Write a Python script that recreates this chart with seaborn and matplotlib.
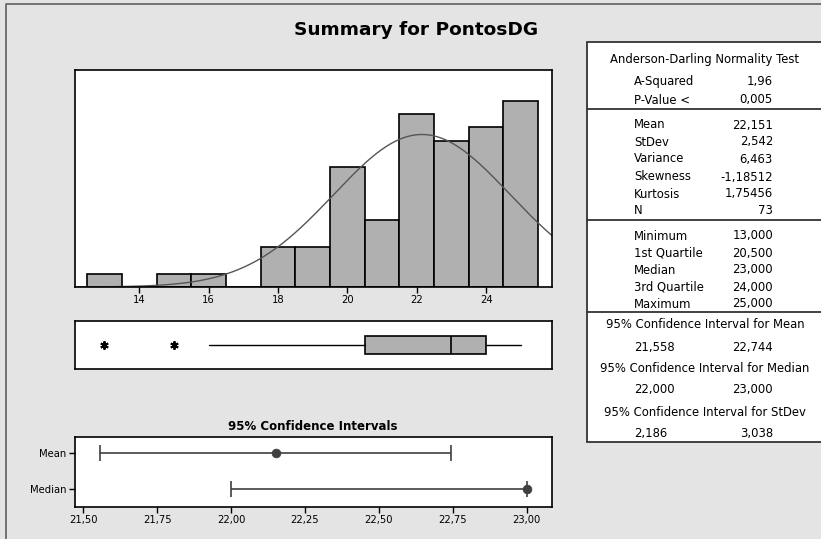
import numpy as np
import pandas as pd
import matplotlib
matplotlib.use("Agg")
import matplotlib.pyplot as plt
import seaborn as sns
from matplotlib.ticker import FuncFormatter
from matplotlib.patches import Rectangle

# ---------------- data ----------------
bin_centers = [13, 14, 15, 16, 17, 18, 19, 20, 21, 22, 23, 24, 25]
bin_counts = [1, 0, 1, 1, 0, 3, 3, 9, 5, 13, 11, 12, 14]
mean_val = 22.151
sd_val = 2.542
n_val = 73
hist_ticks = [14, 16, 18, 20, 22, 24]

ci_labels = ["Mean", "Median"]
ci_point = [22.151, 23.000]
ci_low = [21.558, 22.000]
ci_high = [22.744, 23.000]
ci_ticks = [21.50, 21.75, 22.00, 22.25, 22.50, 22.75, 23.00]

ad_labels = ["A-Squared", "P-Value <"]
ad_values = ["1,96", "0,005"]
desc_labels = ["Mean", "StDev", "Variance", "Skewness", "Kurtosis", "N"]
desc_values = ["22,151", "2,542", "6,463", "-1,18512", "1,75456", "73"]
quart_labels = ["Minimum", "1st Quartile", "Median", "3rd Quartile", "Maximum"]
quart_values = ["13,000", "20,500", "23,000", "24,000", "25,000"]
ci_headers = ["95% Confidence Interval for Mean",
              "95% Confidence Interval for Median",
              "95% Confidence Interval for StDev"]
ci_lows_txt = ["21,558", "22,000", "2,186"]
ci_highs_txt = ["22,744", "23,000", "3,038"]

values = np.repeat(bin_centers, bin_counts).astype(float)

# ---------------- figure ----------------
sns.set_theme(style="white")
plt.rcParams["font.family"] = ["DejaVu Sans"]
plt.rcParams["text.color"] = "black"
plt.rcParams["xtick.color"] = "black"
plt.rcParams["ytick.color"] = "black"
W, H = 821, 539
BG = "#e4e4e4"
fig = plt.figure(figsize=(W / 100, H / 100), dpi=100, facecolor=BG)

def ax_rect(left, top, right, bottom):
    return [left / W, (H - bottom) / H, (right - left) / W, (bottom - top) / H]

comma = FuncFormatter(lambda v, p: f"{v:.2f}".replace(".", ","))
intfmt = FuncFormatter(lambda v, p: f"{v:.0f}")

# overlay for frame + table
ov = fig.add_axes([0, 0, 1, 1], zorder=-1)
ov.set_xlim(0, W)
ov.set_ylim(H, 0)
ov.axis("off")
ov.plot([6, 6, W + 5], [H + 5, 4, 4], color="#6a6a6a", lw=1.3)

# ---------------- histogram ----------------
ax_h = fig.add_axes(ax_rect(75, 70, 552, 287))
edges = np.arange(min(bin_centers) - 0.5, max(bin_centers) + 1.0, 1.0)
sns.histplot(x=values, bins=edges, stat="count", color="#b0b0b0",
             edgecolor="black", linewidth=1.2, alpha=1, ax=ax_h)
xs = np.linspace(12.0, 26.2, 400)
ys = n_val * 1.0 * np.exp(-0.5 * ((xs - mean_val) / sd_val) ** 2) / (sd_val * np.sqrt(2 * np.pi))
sns.lineplot(x=xs, y=ys, color="#555555", lw=1.0, ax=ax_h)
ax_h.set_xlim(12.15, 25.9)
ax_h.set_ylim(0, 16.3)
ax_h.set_xticks(hist_ticks)
ax_h.xaxis.set_major_formatter(intfmt)
ax_h.set_yticks([])
ax_h.set_xlabel("")
ax_h.set_ylabel("")

# ---------------- boxplot ----------------
ax_b = fig.add_axes(ax_rect(75, 321, 552, 369))
q1 = np.percentile(values, 25, method="weibull")
q3 = np.percentile(values, 75, method="weibull")
med = np.percentile(values, 50, method="weibull")
iqr = q3 - q1
lo_f, hi_f = q1 - 1.5 * iqr, q3 + 1.5 * iqr
whislo = values[values >= lo_f].min()
whishi = values[values <= hi_f].max()
fliers = np.unique(values[(values < lo_f) | (values > hi_f)])
stats = [dict(med=med, q1=q1, q3=q3, whislo=whislo, whishi=whishi, fliers=fliers)]
ax_b.bxp(stats, positions=[0], widths=0.72, orientation="horizontal",
         patch_artist=True, showcaps=False,
         boxprops=dict(facecolor="#b0b0b0", edgecolor="black", linewidth=1.2),
         medianprops=dict(color="black", linewidth=1.2),
         whiskerprops=dict(color="black", linewidth=1.0),
         flierprops=dict(marker=(6, 2, 0), markersize=6, markeredgecolor="black",
                         markeredgewidth=1.4, linestyle="none"))
ax_b.set_xlim(12.15, 25.9)
ax_b.set_ylim(-1, 1)
ax_b.set_xticks([])
ax_b.set_yticks([])

# ---------------- confidence intervals ----------------
ax_c = fig.add_axes(ax_rect(75, 437, 552, 507))
ypos = np.arange(len(ci_labels))
lo_err = np.array(ci_point) - np.array(ci_low)
hi_err = np.array(ci_high) - np.array(ci_point)
ax_c.errorbar(ci_point, ypos, xerr=[lo_err, hi_err], fmt="none",
              ecolor="#404040", elinewidth=1.2, capsize=5.5, capthick=1.2)
sns.scatterplot(x=ci_point, y=ypos, color="#404040", s=40, edgecolor="#404040",
                ax=ax_c, zorder=3)
ax_c.set_xlim(21.472, 23.086)
ax_c.set_ylim(1.5, -0.44)
ax_c.set_yticks(ypos)
ax_c.set_yticklabels(ci_labels)
ax_c.set_xticks(ci_ticks)
ax_c.xaxis.set_major_formatter(comma)
ax_c.set_xlabel("")
ax_c.set_ylabel("")

for ax in (ax_h, ax_b, ax_c):
    ax.set_facecolor("white")
    for s in ax.spines.values():
        s.set_color("black")
        s.set_linewidth(1.2)
        s.set_visible(True)
for ax in (ax_h, ax_c):
    ax.tick_params(axis="both", direction="out", length=4, width=1, color="black",
                   labelsize=7.2, labelcolor="black", pad=2, bottom=True, left=(ax is ax_c))

# ---------------- titles ----------------
ov.text(416, 30, "Summary for PontosDG", ha="center", va="center",
        fontsize=13.3, fontweight="bold", color="black")
ov.text(313, 426, "95% Confidence Intervals", ha="center", va="center",
        fontsize=8.5, fontweight="bold", color="black")

# ---------------- table ----------------
ov.add_patch(Rectangle((587, 42), W - 587 + 10, 442 - 42, facecolor="white",
                       edgecolor="#333333", lw=1.3))
for yy in (109, 220, 312):
    ov.plot([587, W + 5], [yy, yy], color="#333333", lw=1.3)

fs = 8.4
LX, RX, CX = 634, 773, 705
tc = "black"
ov.text(CX, 60, "Anderson-Darling Normality Test", ha="center", va="center", fontsize=fs, color=tc)
for lab, val, y in zip(ad_labels, ad_values, [82, 100]):
    ov.text(LX, y, lab, ha="left", va="center", fontsize=fs, color=tc)
    ov.text(RX, y, val, ha="right", va="center", fontsize=fs, color=tc)
for lab, val, y in zip(desc_labels, desc_values, [125, 142, 159, 177, 194, 211]):
    ov.text(LX, y, lab, ha="left", va="center", fontsize=fs, color=tc)
    ov.text(RX, y, val, ha="right", va="center", fontsize=fs, color=tc)
for lab, val, y in zip(quart_labels, quart_values, [236, 253, 270, 287, 304]):
    ov.text(LX, y, lab, ha="left", va="center", fontsize=fs, color=tc)
    ov.text(RX, y, val, ha="right", va="center", fontsize=fs, color=tc)
for hdr, lo, hi, yh, yv in zip(ci_headers, ci_lows_txt, ci_highs_txt,
                               [325, 368, 412], [348, 390, 433]):
    ov.text(CX, yh, hdr, ha="center", va="center", fontsize=fs, color=tc)
    ov.text(LX, yv, lo, ha="left", va="center", fontsize=fs, color=tc)
    ov.text(RX, yv, hi, ha="right", va="center", fontsize=fs, color=tc)

fig.savefig("out.png", dpi=100, facecolor=BG)
